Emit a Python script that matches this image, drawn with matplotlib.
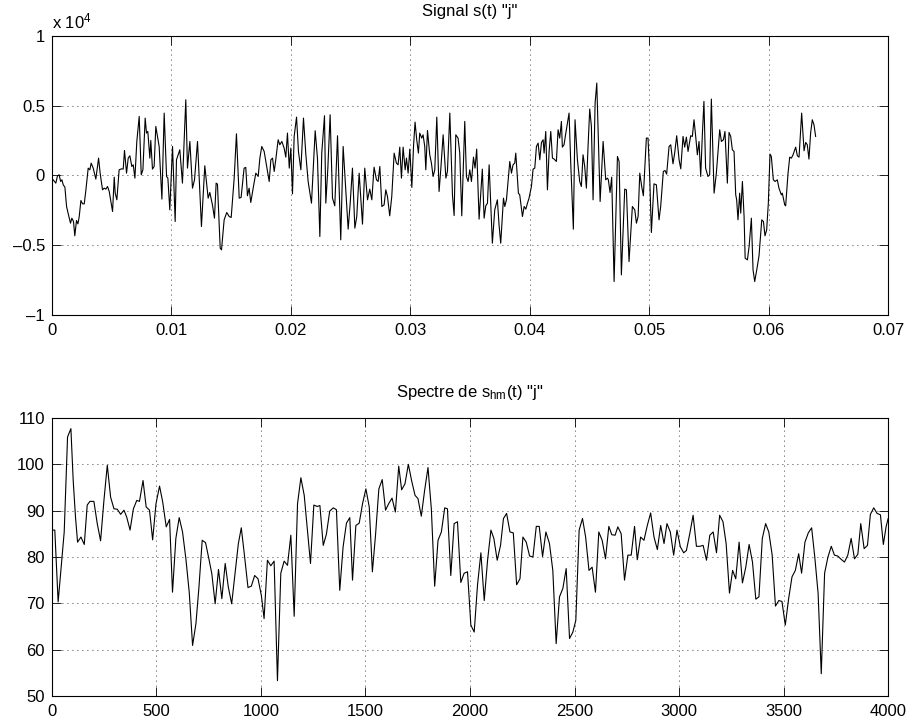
import numpy as np
import matplotlib
matplotlib.use("Agg")
import matplotlib.pyplot as plt
from matplotlib.ticker import FuncFormatter

plt.rcParams['font.family'] = ['Liberation Sans', 'DejaVu Sans']
plt.rcParams['mathtext.fontset'] = 'custom'
plt.rcParams['mathtext.rm'] = 'Liberation Sans'
plt.rcParams['mathtext.it'] = 'Liberation Sans'

# time signal (ms) and amplitude
t_ms = [0.00, 0.33, 0.47, 0.61, 0.73, 0.84, 0.95, 1.09, 1.23, 1.39, 1.56, 1.67, 1.81, 1.92, 2.06, 2.18, 2.29,
        2.43, 2.57, 2.71, 2.85, 3.04, 3.18, 3.29, 3.46, 3.68, 3.91, 4.04, 4.24, 4.38, 4.52, 4.66, 4.80,
        4.94, 5.08, 5.22, 5.30, 5.44, 5.63, 5.83, 5.97, 6.08, 6.25, 6.39, 6.53, 6.69, 6.81, 6.95, 7.11,
        7.31, 7.48, 7.62, 7.81, 7.92, 8.03, 8.20, 8.28, 8.42, 8.56, 8.70, 8.84, 8.98, 9.21, 9.40, 9.60,
        9.71, 9.87, 10.10, 10.32, 10.43, 10.71, 10.93, 11.21, 11.35, 11.55, 11.77, 11.94, 12.19, 12.52,
        12.80, 13.08, 13.22, 13.44, 13.61, 13.75, 13.86, 14.09, 14.20, 14.42, 14.64, 14.84, 15.01, 15.26,
        15.45, 15.68, 15.84, 16.09, 16.23, 16.37, 16.51, 16.65, 16.85, 17.07,
        17.27, 17.41, 17.57, 17.77, 17.96, 18.19, 18.33, 18.47, 18.61, 18.74, 18.94, 19.08, 19.25, 19.44,
        19.58, 19.72, 19.87, 20.00, 20.14, 20.28, 20.48, 20.64, 20.84, 21.06, 21.26, 21.45, 21.73, 22.04,
        22.23, 22.43, 22.59, 22.82, 22.93, 23.10, 23.29, 23.49, 23.68, 23.91, 24.18, 24.38, 24.60, 24.80,
        24.97, 25.16, 25.36, 25.52, 25.72, 26.00, 26.19, 26.42, 26.61, 26.78, 26.97, 27.17, 27.31, 27.45,
        27.62, 27.81, 27.95, 28.09, 28.28, 28.45, 28.65, 28.84, 28.98, 29.12, 29.26, 29.40, 29.57, 29.68,
        29.82, 29.96, 30.13, 30.27, 30.40, 30.54, 30.68, 30.79, 30.96, 31.07, 31.21, 31.30, 31.44, 31.63,
        31.77, 31.91, 32.05, 32.22, 32.41, 32.55, 32.75, 32.98,
        33.11, 33.31, 33.53, 33.67, 33.81, 34.00, 34.14, 34.31, 34.56, 34.70, 34.84, 34.98, 35.12, 35.29,
        35.42, 35.56, 35.76, 36.03, 36.18, 36.32, 36.46, 36.60, 36.74, 36.87, 37.07, 37.29, 37.43, 37.57,
        37.80, 37.91, 38.05, 38.33, 38.47, 38.60, 38.74, 38.83, 39.05, 39.16, 39.39, 39.53, 39.67, 39.81,
        39.94, 40.14, 40.28, 40.42, 40.56, 40.70, 40.84, 40.98, 41.12, 41.20, 41.34, 41.48, 41.62, 41.76,
        41.90, 42.04, 42.23, 42.37, 42.51, 42.65, 42.73, 42.87, 43.01, 43.29, 43.43, 43.65, 43.79, 43.99,
        44.18, 44.32, 44.46, 44.60, 44.74, 44.88, 45.02, 45.16, 45.30, 45.47, 45.61, 45.89, 46.14, 46.36,
        46.50, 46.58, 46.72, 46.86, 47.06, 47.34, 47.48, 47.67, 47.95, 48.09, 48.31, 48.59, 48.79,
        48.93, 49.07, 49.21, 49.37, 49.51, 49.76, 49.90, 50.04, 50.18, 50.40, 50.60, 50.82, 50.96, 51.18,
        51.32, 51.46, 51.66, 51.80, 51.99, 52.13, 52.30, 52.50, 52.64, 52.83, 52.97, 53.11, 53.25, 53.47,
        53.61, 53.75, 53.89, 54.03, 54.17, 54.31, 54.44, 54.58, 54.72, 54.92, 55.06, 55.20, 55.43, 55.62,
        55.90, 56.04, 56.21, 56.34, 56.54, 56.68, 56.82, 56.96, 57.10, 57.24, 57.32, 57.43, 57.57, 57.66,
        57.80, 57.94, 58.03, 58.22, 58.36, 58.55, 58.69, 58.83, 59.00, 59.19, 59.42, 59.56, 59.69, 59.83,
        59.97, 60.11, 60.22, 60.39, 60.53, 60.72, 60.86, 61.06, 61.14, 61.34, 61.42, 61.62, 61.76, 61.90,
        62.04, 62.26, 62.40, 62.54, 62.76, 62.96, 63.10, 63.23, 63.37, 63.51, 63.65, 63.79, 63.93]
s_val = [-200, -550, -20, 50, -430, -310, -670, -840, -2230, -2830, -3430, -3070, -3310, -4340, -3240, -3480, -2950,
         -1800, -2040, -2040, -1030, 530, 410, 890, 530, -260, 1250, 170, -1030, -910, -980, -790, -1150,
         -1870, -2590, -120, -1270, -1750, 410, 480, 460, 1800, 170, 1250, 1420, 650, 770, -190, 2450,
         4250, 50, 410, 4130, 3050, 3170, 1250, 2520, 460, 650, 3530, 2810, 2090, -1700, 4490, -70,
         -190, -2470, 2090, -3310, 1130, 1850, -550, 5450, 530, 2450, -910, -310, 2450, -3670,
         700, -1630, -1220, -2110, -3070, -550, -620, -5230, -5350, -3190, -2660, -2950, -3020, -190,
         3000, -1630, -1580, 530, 580, -1460, -910, -1940, -910, 170,
         -70, 1250, 2090, 1730, 770, -430, 1130, 1250, 290, 1130, 2570, 2210, 2450, 1970,
         1320, 3050, 530, 1970, -1320, 2810, 4200, 1730, 410, 4130, 1490, -430, -1990, 3220,
         1250, -4390, 1610, 4300, -1990, 530, 4370, -1630, -2180, 2860, -4630, 2090, -1030, -3860,
         -1990, 530, -3790, -2950, 170, -3500, 530, -1750, -980, -1750, 600, -310, -430, 650,
         -2230, -2110, -1030, -1510, -2900, -1510, 1610, 890, 770, 2040, -190, 2040, 410, 1250,
         170, 1900, -860, 2090, 3840, 2570, 1610, 3050, 2690, 2930, 2090, 410, 3240, 1490,
         890, -70, 410, 4200, -1150, 410, 2930, -190,
         290, 4490, -1390, -2880, 2930, 2690, 1610, -2900, 3890, -70, -430, 410, -430, 1320,
         530, 1900, -3140, 460, -3070, -2180, -1990, 770, -2230, -4870, -2470, -1750, -3550, -4870,
         -1630, -2230, -1750, 1010, 170, 770, 890, 1610, -1270, -1390, -2950, -2230, -2420, -1990,
         -1630, -790, 460, 530, 2090, 2330, 1130, 2380, 2570, 1610, 3170, -1030, 1730, 3170,
         1250, 1180, 1010, 3290, 2690, 3890, 2040, 2210, 3000, 4490, 890, -3860, 4010, 1130,
         -430, -790, 1490, 650, -910, 2090, 4780, 3530, -1750, 5210, 6650, -1870, 2450, -310,
         -190, -310, -1220, -120, -7630, 1370, 1010, -7150, -980, -1030, -6190, -2230, -2470,
         -3430, -2950, 170, -790, -1460, 2690, 2690, -70, -4100, -600, -670, -3190, -2230, 290,
         360, 100, 2090, 2210, 840, 1610, 2860, 1130, 480, 2810, 2040, 2760, 1730, 2860,
         2810, 4010, 2810, 1490, 2450, -70, 2810, 5330, 530, -70, 50, 5500, -1270, 170,
         3290, 2450, 2570, 3170, -550, 3100, 2810, 1850, 1730, -1390, -1750, -3190, -1270, -2710,
         -430, -2950, -5950, -6070, -5110, -3070, -6790, -7630, -6790, -5780, -3190, -3310, -4340, -3910,
         -1990, 1540, 1370, -310, -430, -310, -910, -1390, -1270, -2110, -2180, 170, 1320, 1250,
         1490, 2040, 1420, 1320, 4490, 1780, 2380, 2210, 1180, 3050, 4010, 3650, 2810]

# spectrum (Hz) and level
f_hz = [0, 14, 30, 46, 59, 75, 91, 102, 113, 123, 139, 155, 169, 182, 201, 217, 233, 249, 265, 281, 297,
        313, 329, 345, 358, 374, 390, 406, 419, 436, 451, 467, 482, 498, 515, 530, 547, 563, 577, 593,
        609, 625, 641, 657, 673, 689, 703, 719, 735, 751, 765, 781, 797, 813, 829, 844, 860, 876, 892,
        906, 922, 938, 954, 970,
        986, 1002, 1015, 1031, 1047, 1063, 1079, 1095, 1111, 1127, 1143, 1159, 1175, 1191, 1207, 1221,
        1237, 1253, 1269, 1282, 1298, 1313, 1329, 1346, 1361, 1377, 1393, 1409, 1425, 1438, 1454, 1470,
        1486, 1502, 1518, 1533, 1548, 1564, 1580, 1596, 1611, 1627, 1643, 1659, 1673, 1689, 1705, 1721,
        1737, 1751, 1767, 1783, 1799, 1815, 1831, 1847, 1863, 1879,
        1892, 1908, 1924, 1940, 1956, 1972, 1988, 2004, 2020, 2036, 2052, 2068, 2084, 2100, 2114, 2130,
        2146, 2160, 2175, 2191, 2207, 2223, 2239, 2253, 2269, 2285, 2301, 2317, 2331, 2347, 2363, 2380,
        2396, 2412, 2428, 2444, 2460, 2476, 2492, 2506, 2522, 2538, 2553, 2569, 2584, 2600, 2616, 2632,
        2648, 2664, 2678, 2694, 2707, 2723, 2739, 2755, 2771, 2787,
        2800, 2816, 2832, 2848, 2864, 2880, 2896, 2912, 2928, 2942, 2958, 2974, 2990, 3006, 3022, 3035,
        3051, 3067, 3083, 3099, 3115, 3131, 3147, 3163, 3179, 3194, 3210, 3225, 3241, 3256, 3271, 3287,
        3303, 3319, 3335, 3351, 3367, 3382, 3398, 3414, 3429, 3445, 3461, 3477, 3492, 3508, 3524, 3540,
        3556, 3572, 3586, 3602, 3618, 3634, 3649, 3665, 3680, 3696, 3712, 3728, 3743, 3759, 3775, 3791,
        3807, 3823, 3839, 3855, 3869, 3885, 3901, 3915, 3931, 3947, 3963, 3977, 3990, 4000]
spec = [85.8, 85.8, 70.3, 78.6, 85.4, 105.9, 107.7, 96.5, 88.6, 83.2, 84.3, 82.7, 91.2, 92.0, 92.0, 87.2, 83.5,
        92.2, 99.8, 92.9, 90.4, 90.3, 89.2, 90.1, 88.6, 85.8, 90.4, 92.2, 92.0, 96.5, 90.8, 90.1, 83.7,
        91.5, 95.3, 91.9, 86.5, 88.1, 72.4, 84.0, 88.5, 85.4, 79.6, 72.4, 60.9, 65.6, 73.2, 83.6, 83.1,
        79.6, 76.4, 69.9, 77.3, 71.0, 78.6, 73.5, 69.9, 76.4, 82.9, 86.3, 80.0, 73.4, 73.7, 76.0,
        75.3, 71.7, 66.7, 79.3, 78.1, 79.1, 53.3, 76.5, 79.1, 78.2, 84.7, 67.2, 91.5, 97.1, 93.3, 86.5,
        78.6, 91.2, 90.9, 91.1, 82.5, 84.9, 89.9, 90.6, 90.2, 72.8, 82.2, 87.3, 88.5, 75.0, 86.8, 87.3,
        91.5, 94.7, 90.8, 76.8, 84.7, 94.7, 96.7, 90.1, 91.5, 92.7, 89.7, 99.6, 94.5, 95.8, 100.0, 96.4,
        93.3, 92.6, 88.8, 94.4, 99.3, 90.4, 73.7, 83.6, 85.4, 90.6,
        90.4, 76.0, 87.2, 87.6, 74.5, 76.5, 76.8, 65.3, 63.8, 74.0, 80.9, 70.6, 79.3, 85.8, 84.0, 79.3,
        82.5, 88.3, 89.4, 85.4, 85.2, 74.0, 75.3, 84.3, 83.2, 80.2, 80.0, 86.6, 86.6, 80.1, 85.4, 82.9,
        77.1, 61.3, 71.4, 73.2, 77.5, 62.4, 63.8, 66.3, 85.8, 88.3, 84.3, 77.1, 77.8, 72.4, 85.4, 83.6,
        79.6, 86.6, 84.8, 84.7, 86.5, 85.0, 75.0, 80.4, 80.4, 86.6,
        79.4, 84.3, 83.6, 86.8, 89.5, 84.3, 81.6, 86.8, 82.9, 87.2, 85.4, 80.4, 85.8, 82.2, 80.9, 81.4,
        85.0, 89.0, 82.3, 82.3, 82.5, 79.3, 84.7, 85.4, 80.9, 89.0, 87.6, 82.9, 72.2, 77.1, 75.3, 83.2,
        74.4, 77.8, 82.7, 78.9, 70.9, 71.4, 84.0, 87.2, 85.4, 80.5, 69.4, 70.6, 70.4, 65.3, 71.0, 75.7,
        77.1, 80.7, 76.5, 83.2, 85.2, 86.3, 80.0, 72.1, 54.8, 76.5, 80.0, 82.3, 80.4, 80.2, 79.5, 78.9,
        80.4, 84.0, 79.6, 80.6, 87.2, 81.8, 82.5, 89.2, 90.6, 89.4, 89.1, 82.7, 86.5, 88.3]

t_sec = np.array(t_ms) / 1000.0
FS = 12


def matlab_axes(ax):
    ax.grid(True, color='black', linestyle=(0, (1, 5)), linewidth=0.6)
    ax.tick_params(direction='in', length=6.5, width=0.6, top=True, right=True, labelsize=FS)
    ax.tick_params(axis='x', pad=6)
    ax.tick_params(axis='y', pad=5)
    for sp in ax.spines.values():
        sp.set_linewidth(0.8)


fig = plt.figure(figsize=(9.1, 7.24), dpi=100)
ax1 = fig.add_axes([0.057, 0.5656, 0.919, 0.384])
ax2 = fig.add_axes([0.057, 0.0387, 0.919, 0.384])

ax1.plot(t_sec, s_val, color='black', linewidth=0.8)
ax1.set_xlim(0, 0.07)
ax1.set_ylim(-10000, 10000)
ax1.set_xticks(np.arange(0, 0.071, 0.01))
ax1.xaxis.set_major_formatter(FuncFormatter(lambda v, p: '%g' % round(v, 3)))
ax1.set_yticks(np.arange(-10000, 10001, 5000))
ax1.yaxis.set_major_formatter(FuncFormatter(lambda v, p: ('%g' % (v / 1e4)).replace('-', '\u2013')))
ax1.set_title('Signal s(t) "j"', fontsize=FS, pad=15)
ax1.annotate('x 10$^4$', xy=(0, 1), xycoords='axes fraction', xytext=(0, 6),
             textcoords='offset points', fontsize=FS, ha='left', va='baseline')
matlab_axes(ax1)

ax2.plot(f_hz, spec, color='black', linewidth=0.8)
ax2.set_xlim(0, 4000)
ax2.set_ylim(50, 110)
ax2.set_xticks(np.arange(0, 4001, 500))
ax2.set_yticks(np.arange(50, 111, 10))
ax2.set_title('Spectre de s$_{hm}$(t) "j"', fontsize=FS, pad=15)
matlab_axes(ax2)

fig.savefig('out.png', dpi=100)
